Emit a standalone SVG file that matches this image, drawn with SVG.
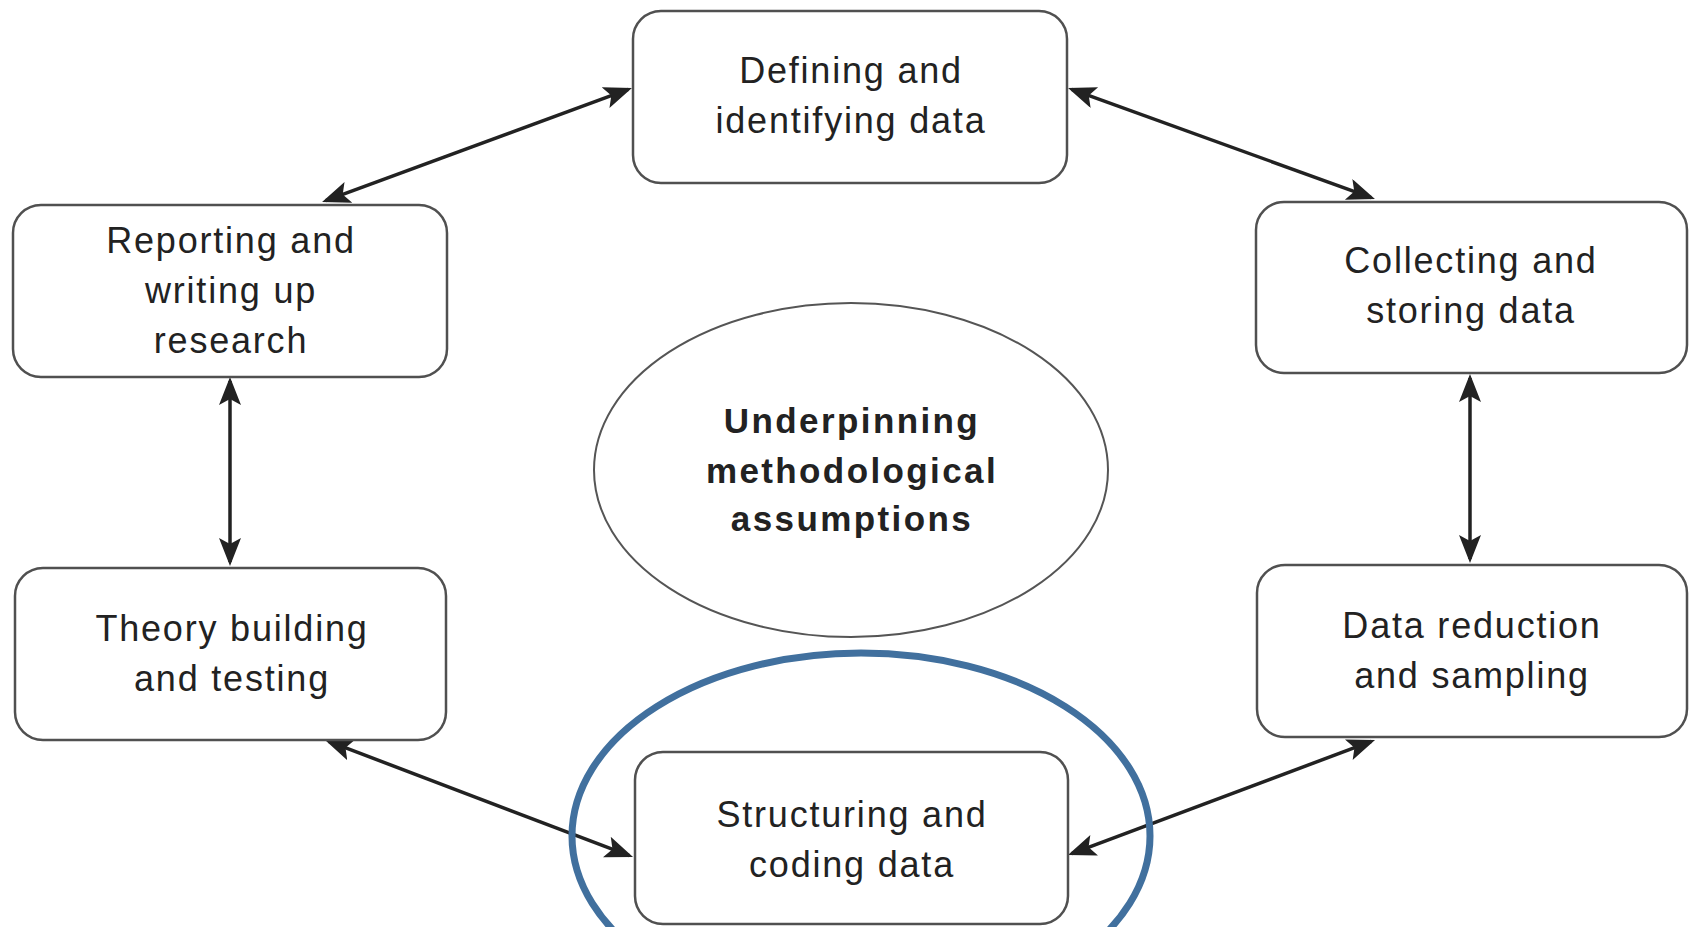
<svg xmlns="http://www.w3.org/2000/svg" width="1690" height="927" viewBox="0 0 1690 927">
  <style>
    .box { fill: #ffffff; stroke: #505050; stroke-width: 2.5; }
    .label { font-family: "Liberation Sans", Arial, sans-serif; font-size: 36px; letter-spacing: 1.8px; fill: #222222; text-anchor: middle; }
    .core { font-family: "Liberation Sans", Arial, sans-serif; font-size: 35px; font-weight: bold; letter-spacing: 2.4px; fill: #222222; text-anchor: middle; }
    .link { stroke: #222222; stroke-width: 3.5; fill: none; marker-start: url(#head); marker-end: url(#head); }
    .hub { fill: #ffffff; stroke: #555555; stroke-width: 2; }
    .focus { fill: none; stroke: #41709e; stroke-width: 7; }
  </style>
  <defs>
    <marker id="head" markerUnits="userSpaceOnUse" markerWidth="30" markerHeight="24" viewBox="0 0 30 24" refX="24" refY="11" orient="auto-start-reverse">
      <path d="M0,0 L28,11 L0,22 L6,11 Z" fill="#222222"/>
    </marker>
  </defs>

  <rect width="1690" height="927" fill="#ffffff"/>

  <!-- connectors -->
  <g id="connectors">
    <line class="link" x1="325.8" y1="200.6" x2="628.2" y2="89.4"/>
    <line class="link" x1="1071.8" y1="89.4" x2="1371.2" y2="197.6"/>
    <line class="link" x1="230" y1="381" x2="230" y2="562"/>
    <line class="link" x1="1470" y1="378" x2="1470" y2="559"/>
    <line class="link" x1="328.7" y1="741.4" x2="629.3" y2="855.6"/>
    <line class="link" x1="1371.3" y1="741.4" x2="1071.7" y2="853.6"/>
  </g>

  <!-- centre -->
  <g id="assumptions">
    <ellipse class="hub" cx="851" cy="470" rx="257" ry="167"/>
    <text class="core" x="852" y="433">Underpinning</text>
    <text class="core" x="852" y="483">methodological</text>
    <text class="core" x="852" y="531">assumptions</text>
  </g>

  <g id="defining">
    <rect class="box" x="633" y="11" width="434" height="172" rx="28"/>
    <text class="label" x="851" y="83">Defining and</text>
    <text class="label" x="851" y="133">identifying data</text>
  </g>

  <g id="collecting">
    <rect class="box" x="1256" y="202" width="431" height="171" rx="28"/>
    <text class="label" x="1471" y="273">Collecting and</text>
    <text class="label" x="1471" y="323">storing data</text>
  </g>

  <g id="reduction">
    <rect class="box" x="1257" y="565" width="430" height="172" rx="28"/>
    <text class="label" x="1472" y="638">Data reduction</text>
    <text class="label" x="1472" y="688">and sampling</text>
  </g>

  <g id="structuring">
    <rect class="box" x="635" y="752" width="433" height="172" rx="28"/>
    <text class="label" x="852" y="827">Structuring and</text>
    <text class="label" x="852" y="877">coding data</text>
  </g>

  <g id="theory">
    <rect class="box" x="15" y="568" width="431" height="172" rx="28"/>
    <text class="label" x="232" y="641">Theory building</text>
    <text class="label" x="232" y="691">and testing</text>
  </g>

  <g id="reporting">
    <rect class="box" x="13" y="205" width="434" height="172" rx="28"/>
    <text class="label" x="231" y="253">Reporting and</text>
    <text class="label" x="231" y="303">writing up</text>
    <text class="label" x="231" y="353">research</text>
  </g>

  <!-- highlight around the structuring step -->
  <g id="highlight">
    <ellipse class="focus" cx="861" cy="836" rx="289" ry="183"/>
  </g>
</svg>
